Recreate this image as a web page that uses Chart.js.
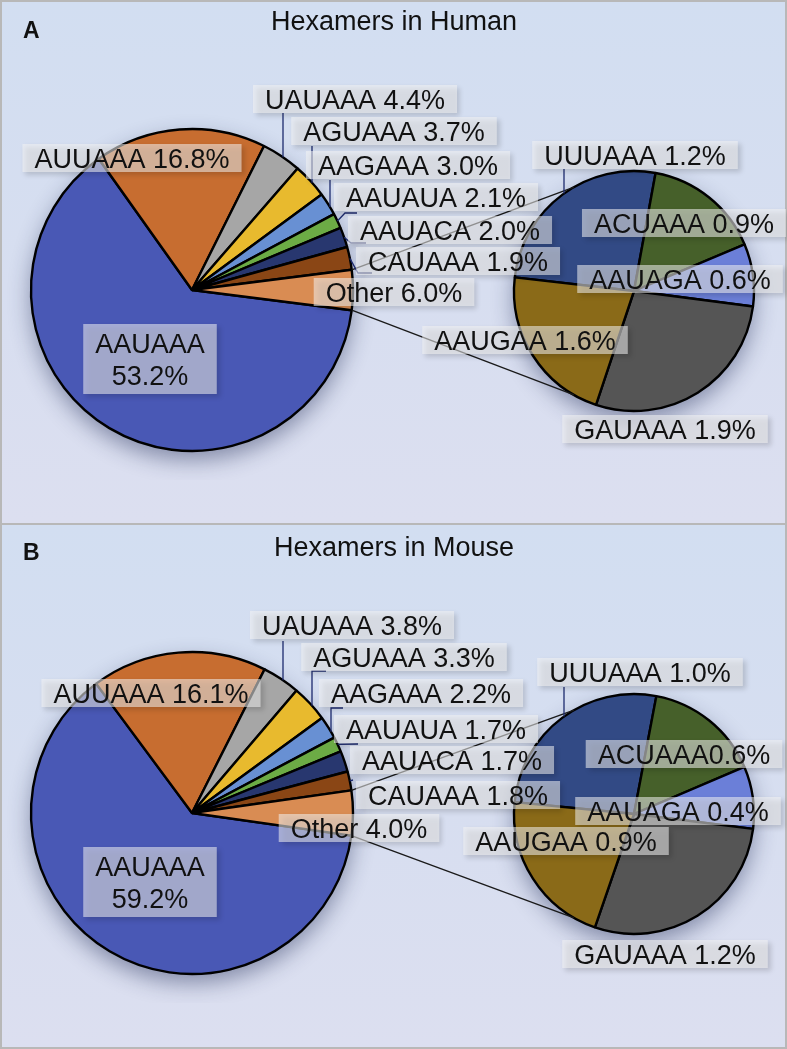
<!DOCTYPE html>
<html>
<head>
<meta charset="utf-8">
<script src="https://cdn.jsdelivr.net/npm/chart.js@4.4.1/dist/chart.umd.min.js"></script>
<style>
  html, body { margin: 0; padding: 0; background: #fff; }
  #wrap { position: relative; width: 787px; height: 1049px; overflow: hidden; }
  .panel { position: absolute; left: 0; width: 787px; box-sizing: border-box; border: 2px solid #b8b8b8;
           background: linear-gradient(180deg, #d2def1 0%, #d7def0 55%, #dcdff0 100%); }
  .panel canvas { position: absolute; }
  #overlay { position: absolute; left: 0; top: 0; }
</style>
</head>
<body>
<div id="wrap">
  <div class="panel" style="top:0;height:525px">
    <canvas id="mainA" width="380" height="380" style="left:0;top:98px"></canvas>
    <canvas id="subA" width="300" height="300" style="left:482px;top:139px"></canvas>
  </div>
  <div class="panel" style="top:523px;height:526px">
    <canvas id="mainB" width="380" height="380" style="left:0;top:98px"></canvas>
    <canvas id="subB" width="300" height="300" style="left:482px;top:139px"></canvas>
  </div>
  <canvas id="overlay" width="787" height="1049"></canvas>
</div>
<script>
const mainNames = ['AAUAAA', 'AUUAAA', 'UAUAAA', 'AGUAAA', 'AAGAAA', 'AAUAUA', 'AAUACA', 'CAUAAA', 'Other'],
      subNames = ['UUUAAA', 'ACUAAA', 'AAUAGA', 'GAUAAA', 'AAUGAA'];

// percentages printed in the labels
const humanMainPct = [53.2, 16.8, 4.4, 3.7, 3.0, 2.1, 2.0, 1.9, 6.0],
      humanSubPct = [1.2, 0.9, 0.6, 1.9, 1.6],
      mouseMainPct = [59.2, 16.1, 3.8, 3.3, 2.2, 1.7, 1.7, 1.8, 4.0],
      mouseSubPct = [1.0, 0.6, 0.4, 1.2, 0.9];

// slice shares as drawn in the figure
const humanMainSlice = [63.1, 17.2, 4.0, 3.5, 2.3, 1.5, 2.0, 2.3, 4.0],
      humanSubSlice = [26.1, 15.8, 8.4, 28.1, 21.7],
      mouseMainSlice = [62.6, 17.6, 3.8, 3.7, 2.3, 1.5, 2.1, 1.9, 4.5],
      mouseSubSlice = [26.4, 15.6, 8.4, 28.3, 21.3];

const mainColors = ['#4958b5', '#c76d30', '#a6a6a6', '#e8ba2e', '#6890d3', '#6cab45', '#28376f', '#8a4615', '#d98c53'],
      subColors = ['#324a85', '#46602a', '#6b7fd8', '#555555', '#8a6a18'];

// label centres, relative to each panel
const humanMainPos = [[150, 359], [132, 158], [355, 99], [394, 131], [408, 165], [436, 197], [450, 230], [458, 261], [394, 292]],
      humanSubPos = [[635, 155], [684, 223], [680, 279], [665, 429], [525, 340]],
      mouseMainPos = [[150, 359], [151, 170], [352, 102], [404, 134], [421, 170], [436, 206], [452, 237], [458, 272], [359, 305]],
      mouseSubPos = [[640, 149], [684, 231], [678, 288], [665, 431], [566, 318]];

const humanLeaders = [
    {i: 2, x: 283, top: 113}, {i: 3, x: 312, top: 146}, {i: 4, x: 330, top: 180},
    {i: 5, pts: [[345, 213], [357, 213]]}, {i: 6, pts: [[351, 243], [366, 243]]}, {i: 7, pts: [[358, 273], [372, 273]]},
    {i: 0, sub: true, x: 564, top: 169}
];
const mouseLeaders = [
    {i: 2, x: 283, top: 118}, {i: 3, x: 312, top: 148, hook: 326}, {i: 4, x: 331, top: 185, hook: 343},
    {i: 5, pts: [[358, 221]]}, {i: 7, pts: [[353, 257]]},
    {i: 0, sub: true, x: 564, top: 164}
];

const pieShadow = {
    id: 'pieShadow',
    beforeDatasetsDraw(chart) {
        const a = chart.getDatasetMeta(0).data[0], c = chart.ctx;
        c.save();
        c.shadowColor = 'rgba(25,35,80,0.45)';
        c.shadowBlur = 22;
        c.shadowOffsetY = 9;
        c.beginPath();
        c.arc(a.x, a.y, a.outerRadius, 0, Math.PI * 2);
        c.fillStyle = '#7a82a8';
        c.fill();
        c.restore();
    }
};

function makePie(id, data, colors, radius, rotation) {
    return new Chart(document.getElementById(id), {
        type: 'pie',
        data: {labels: colors.map((_, i) => i), datasets: [{
            data: data, backgroundColor: colors, borderColor: '#000', borderWidth: 2.4
        }]},
        options: {
            responsive: false, animation: false, events: [],
            radius: radius, rotation: rotation,
            layout: {padding: 0},
            plugins: {legend: {display: false}, tooltip: {enabled: false}}
        },
        plugins: [pieShadow]
    });
}

// "Other" is centred on 3 o'clock, as in the original figure
function mainRotation(slices) {
    const total = slices.reduce((s, v) => s + v, 0);
    return 90 + slices[slices.length - 1] / total * 180;
}

const panels = [
    {top: 0, title: 'Hexamers in Human', letter: 'A', titleY: 30, letterY: 38,
     main: makePie('mainA', humanMainSlice, mainColors, 161, mainRotation(humanMainSlice)),
     sub: makePie('subA', humanSubSlice, subColors, 120, 276.5),
     mainPct: humanMainPct, subPct: humanSubPct, mainPos: humanMainPos, subPos: humanSubPos,
     leaders: humanLeaders, tight: []},
    {top: 523, title: 'Hexamers in Mouse', letter: 'B', titleY: 33, letterY: 37,
     main: makePie('mainB', mouseMainSlice, mainColors, 161, mainRotation(mouseMainSlice)),
     sub: makePie('subB', mouseSubSlice, subColors, 120, 275.7),
     mainPct: mouseMainPct, subPct: mouseSubPct, mainPos: mouseMainPos, subPos: mouseSubPos,
     leaders: mouseLeaders, tight: [1]}
];

const wrap = document.getElementById('wrap'),
      ov = document.getElementById('overlay'),
      ctx = ov.getContext('2d');

function offset(canvas) {
    const r = canvas.getBoundingClientRect(), w = wrap.getBoundingClientRect();
    return {x: r.left - w.left, y: r.top - w.top};
}

function circleOf(chart) {
    const a = chart.getDatasetMeta(0).data[0], o = offset(chart.canvas);
    return {x: o.x + a.x, y: o.y + a.y, r: a.outerRadius};
}

function drawBox(lines, cx, cy) {
    ctx.font = '27px "Liberation Sans", Arial, sans-serif';
    const tw = Math.max(...lines.map(t => ctx.measureText(t).width)),
          w = tw + 24, h = lines.length > 1 ? 70 : 28;
    ctx.save();
    ctx.shadowColor = 'rgba(0,0,0,0.28)';
    ctx.shadowBlur = 5;
    ctx.shadowOffsetX = 3;
    ctx.shadowOffsetY = 3;
    ctx.fillStyle = 'rgba(242,242,242,0.55)';
    ctx.fillRect(cx - w / 2, cy - h / 2, w, h);
    ctx.restore();
    ctx.fillStyle = '#111';
    ctx.textAlign = 'center';
    ctx.textBaseline = 'alphabetic';
    if (lines.length > 1) {
        ctx.fillText(lines[0], cx, cy - 16 + 9.7);
        ctx.fillText(lines[1], cx, cy + 16 + 9.7);
    } else {
        ctx.fillText(lines[0], cx, cy + 9.7);
    }
}

panels.forEach(p => {
    const mc = circleOf(p.main), sc = circleOf(p.sub),
          mainArcs = p.main.getDatasetMeta(0).data,
          other = mainArcs[mainArcs.length - 1];

    // series lines from "Other" to the secondary pie
    ctx.strokeStyle = '#1a1a1a';
    ctx.lineWidth = 1.4;
    [[other.startAngle, Math.PI * 4 / 3], [other.endAngle, Math.PI * 2 / 3]].forEach(([a, b]) => {
        ctx.beginPath();
        ctx.moveTo(mc.x + mc.r * Math.cos(a), mc.y + mc.r * Math.sin(a));
        ctx.lineTo(sc.x + sc.r * Math.cos(b), sc.y + sc.r * Math.sin(b));
        ctx.stroke();
    });

    // leader lines
    ctx.strokeStyle = '#1d2a6e';
    ctx.lineWidth = 1.3;
    p.leaders.forEach(l => {
        const c = l.sub ? sc : mc;
        ctx.beginPath();
        if (l.pts) {
            const arc = (l.sub ? p.sub : p.main).getDatasetMeta(0).data[l.i],
                  a = (arc.startAngle + arc.endAngle) / 2;
            ctx.moveTo(c.x + c.r * Math.cos(a), c.y + c.r * Math.sin(a));
            l.pts.forEach(([x, y]) => ctx.lineTo(x, y + p.top));
        } else {
            const yc = c.y - Math.sqrt(c.r * c.r - (l.x - c.x) * (l.x - c.x));
            ctx.moveTo(l.x, yc);
            ctx.lineTo(l.x, l.top + p.top);
            if (l.hook) ctx.lineTo(l.hook, l.top + p.top);
        }
        ctx.stroke();
    });

    // labels
    mainNames.forEach((n, i) => {
        const [x, y] = p.mainPos[i], pct = p.mainPct[i].toFixed(1) + '%';
        drawBox(i === 0 ? [n, pct] : [n + ' ' + pct], x, y + p.top);
    });
    subNames.forEach((n, i) => {
        const [x, y] = p.subPos[i], sep = p.tight.includes(i) ? '' : ' ';
        drawBox([n + sep + p.subPct[i].toFixed(1) + '%'], x, y + p.top);
    });

    // title and panel letter
    ctx.fillStyle = '#111';
    ctx.textAlign = 'center';
    ctx.font = '27px "Liberation Sans", Arial, sans-serif';
    ctx.fillText(p.title, 394, p.top + p.titleY);
    ctx.textAlign = 'left';
    ctx.font = 'bold 23px "Liberation Sans", Arial, sans-serif';
    ctx.fillText(p.letter, 23, p.top + p.letterY);
});
</script>
</body>
</html>
